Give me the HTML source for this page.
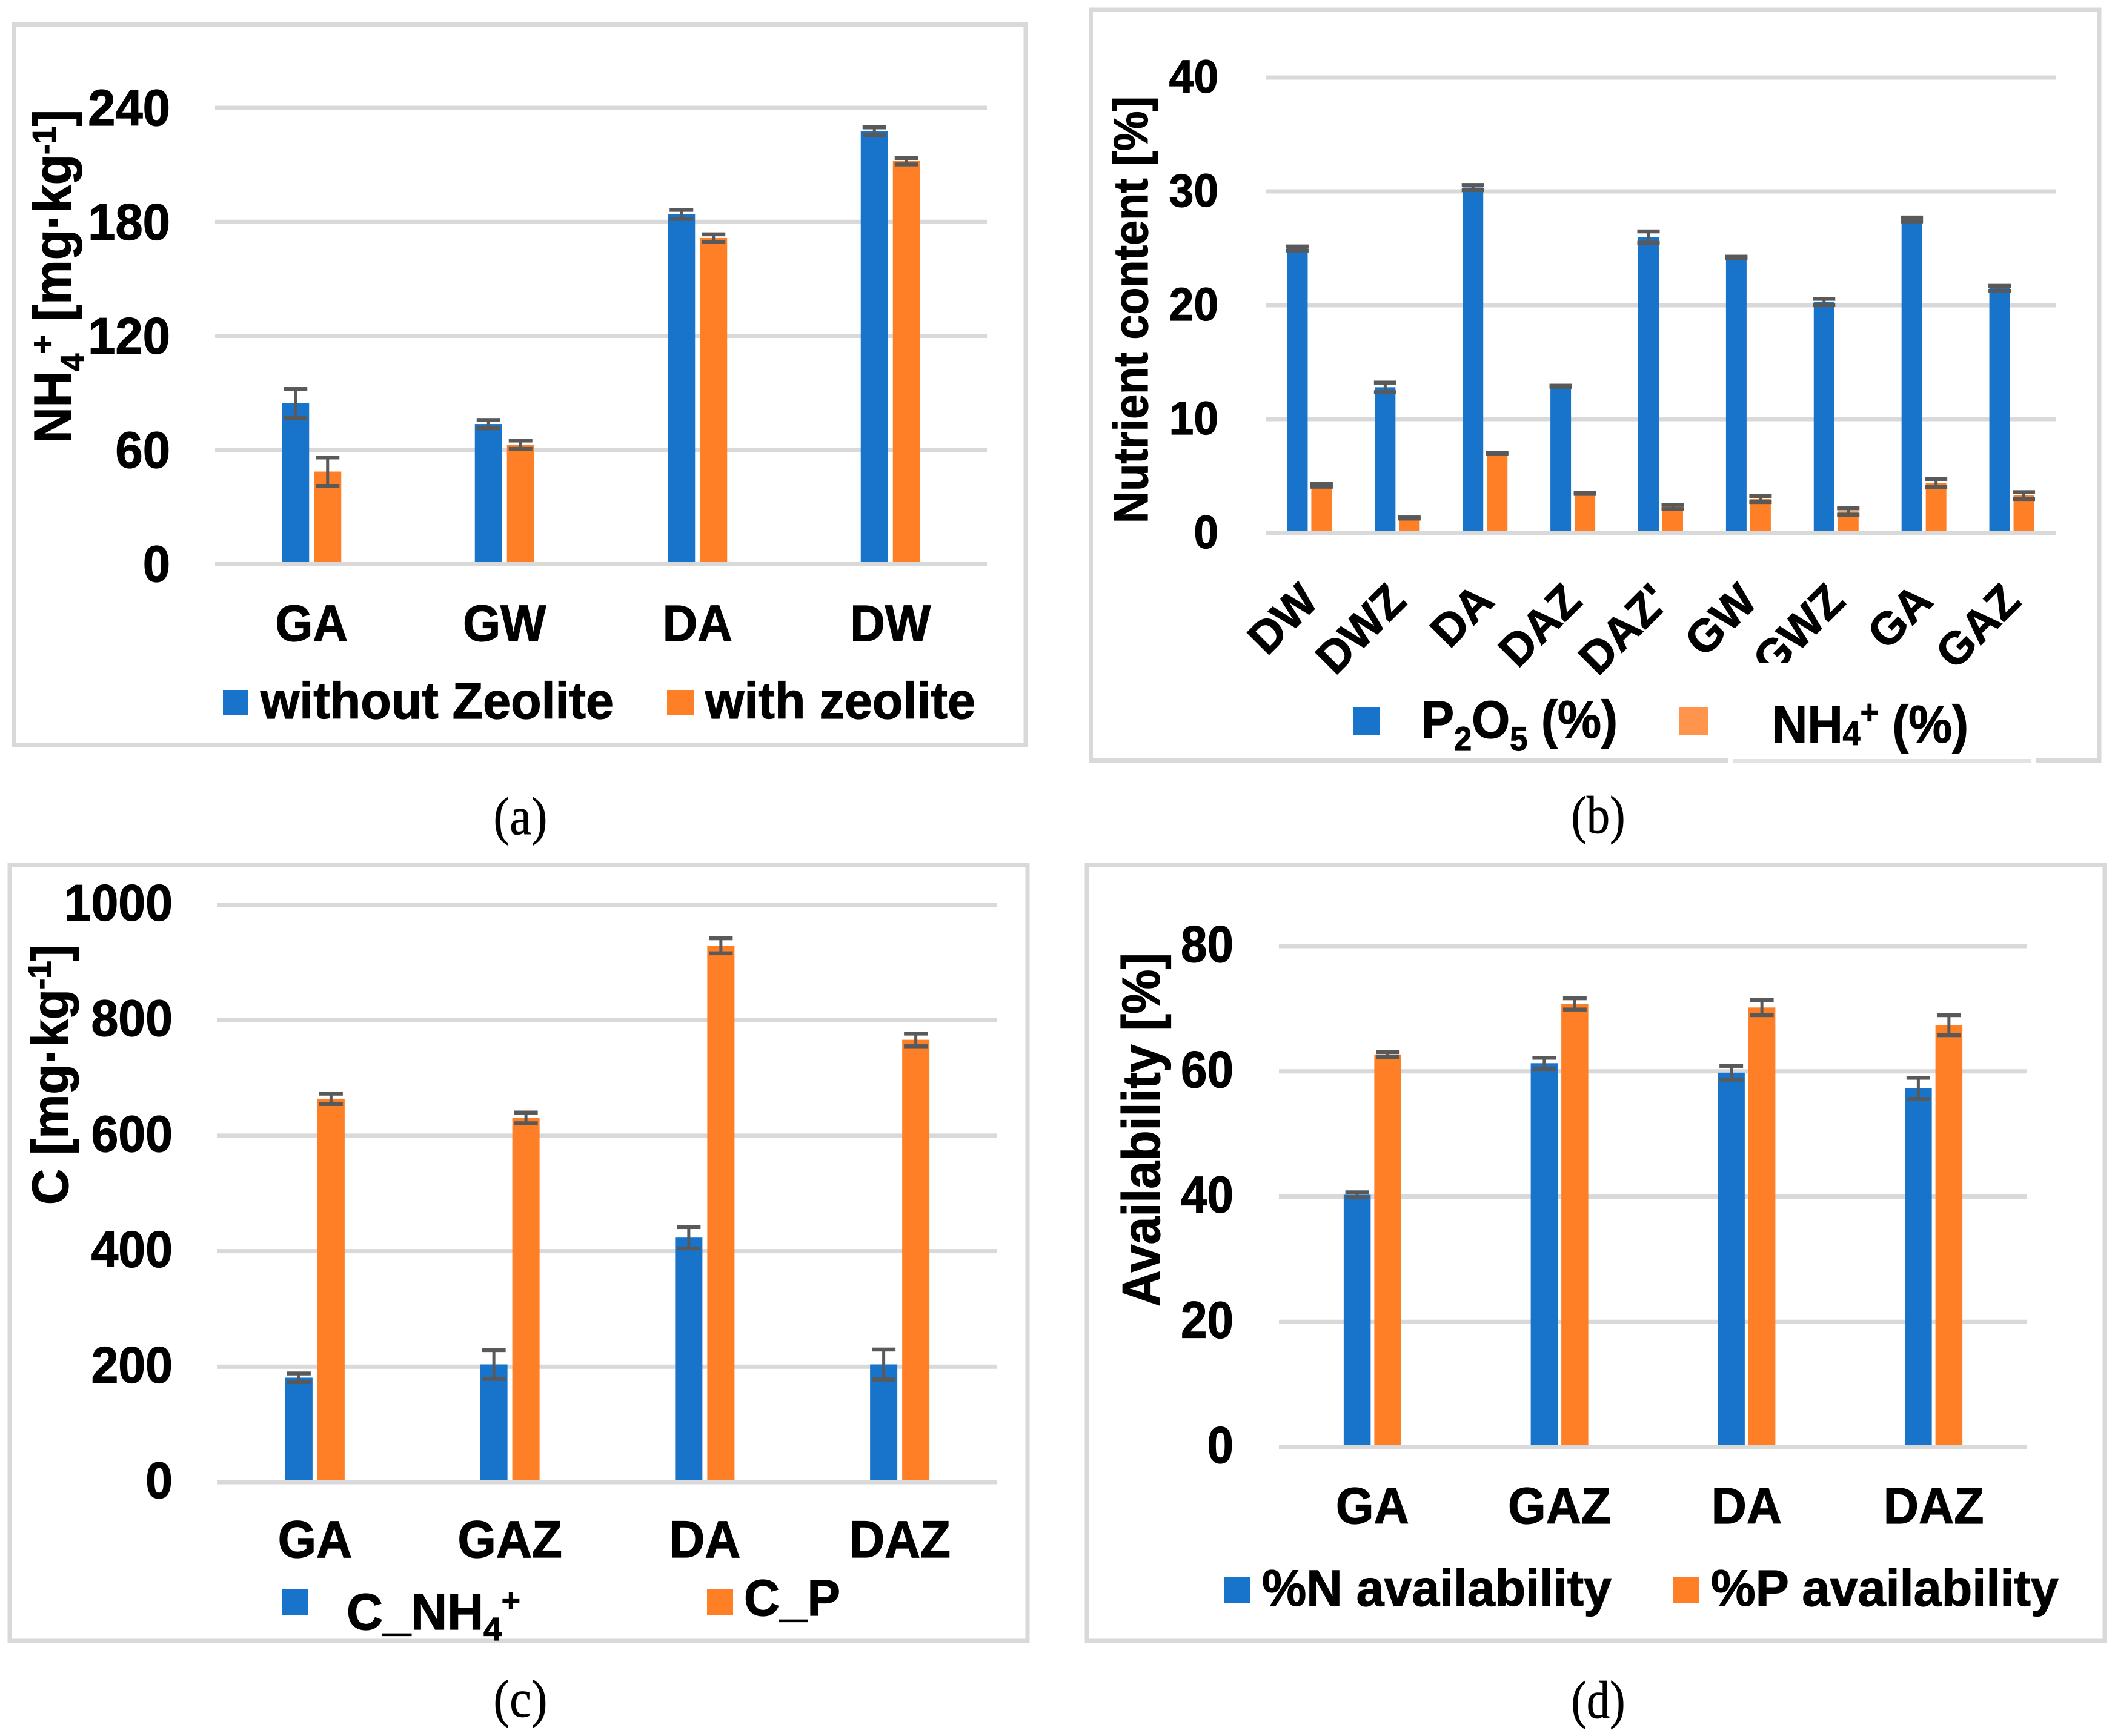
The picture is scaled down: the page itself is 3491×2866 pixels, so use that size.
<!DOCTYPE html>
<html lang="en">
<head>
<meta charset="utf-8">
<title>Nutrient charts</title>
<style>
html,body{margin:0;padding:0;background:#fff;}
svg{display:block;}
text{font-family:"Liberation Sans",sans-serif;font-weight:bold;fill:#000;stroke:#000;stroke-width:1.2px;}
.cap{font-family:"Liberation Serif",serif;font-weight:normal;font-size:88px;text-anchor:middle;stroke-width:0.8px;}
</style>
</head>
<body>
<svg id="figure" xmlns="http://www.w3.org/2000/svg" width="3491" height="2866" viewBox="0 0 3491 2866">
  <rect x="0" y="0" width="3491" height="2866" fill="#ffffff"/>

  <rect x="22.5" y="40.5" width="1670.5" height="1190" fill="none" stroke="#d9d9d9" stroke-width="7"/>
  <rect x="1800.5" y="16" width="1664.5" height="1239.5" fill="none" stroke="#d9d9d9" stroke-width="7"/>
  <rect x="16" y="1428" width="1680" height="1281" fill="none" stroke="#d9d9d9" stroke-width="7"/>
  <rect x="1794" y="1428" width="1680" height="1281" fill="none" stroke="#d9d9d9" stroke-width="7"/>
  <rect x="2852" y="1245" width="508" height="20" fill="#ffffff"/>
  <rect x="2860" y="1253" width="493" height="7" fill="#e3e3e3"/>

  <g id="panel-a"></g>
  <g id="panel-b"></g>
  <g id="panel-c"></g>
  <g id="panel-d"></g>

  <rect x="2900" y="1094" width="80" height="24" fill="#ffffff"/>

  <!-- panel a text -->
  <text transform="translate(117,732) rotate(-90)" font-size="87" textLength="551" lengthAdjust="spacingAndGlyphs">NH<tspan font-size="55" dy="21">4</tspan><tspan font-size="55" dy="-49">+</tspan><tspan dy="28"> [mg·kg</tspan><tspan font-size="55" dy="-25">-1</tspan><tspan dy="25">]</tspan></text>
  <rect x="368" y="1139" width="42" height="41" fill="#1874ca"/>
  <text x="430" y="1186" font-size="84" textLength="583" lengthAdjust="spacingAndGlyphs">without Zeolite</text>
  <rect x="1101" y="1139" width="44" height="41" fill="#ff7f27"/>
  <text x="1164" y="1186" font-size="84" textLength="446" lengthAdjust="spacingAndGlyphs">with zeolite</text>
  <text class="cap" x="859" y="1377" textLength="89" lengthAdjust="spacingAndGlyphs">(a)</text>

  <!-- panel b text -->
  <text transform="translate(1894,864) rotate(-90)" font-size="80" textLength="705" lengthAdjust="spacingAndGlyphs">Nutrient content [%]</text>
  <rect x="2233" y="1167" width="44" height="47" fill="#1874ca"/>
  <text x="2346" y="1218" font-size="87" textLength="324" lengthAdjust="spacingAndGlyphs">P<tspan font-size="56" dy="21">2</tspan><tspan dy="-21">O</tspan><tspan font-size="56" dy="21">5</tspan><tspan dy="-21"> (%)</tspan></text>
  <rect x="2772" y="1167" width="47" height="46" fill="#ff954d"/>
  <text x="2925" y="1226" font-size="87" textLength="324" lengthAdjust="spacingAndGlyphs">NH<tspan font-size="56" dy="4">4</tspan><tspan font-size="56" dy="-35">+</tspan><tspan dy="31"> (%)</tspan></text>
  <text class="cap" x="2638" y="1375" textLength="89" lengthAdjust="spacingAndGlyphs">(b)</text>

  <!-- panel c text -->
  <text transform="translate(112,1989) rotate(-90)" font-size="84" textLength="430" lengthAdjust="spacingAndGlyphs">C [mg·kg<tspan font-size="54" dy="-28">-1</tspan><tspan dy="28">]</tspan></text>
  <rect x="465" y="2624" width="43" height="42" fill="#1874ca"/>
  <text x="572" y="2690" font-size="84" textLength="287" lengthAdjust="spacingAndGlyphs">C_NH<tspan font-size="54" dy="18">4</tspan><tspan font-size="54" dy="-48">+</tspan></text>
  <rect x="1167" y="2624" width="43" height="42" fill="#ff7f27"/>
  <text x="1228" y="2667" font-size="84" textLength="159" lengthAdjust="spacingAndGlyphs">C_P</text>
  <text class="cap" x="859" y="2834" textLength="89" lengthAdjust="spacingAndGlyphs">(c)</text>

  <!-- panel d text -->
  <text transform="translate(1914,2157) rotate(-90)" font-size="88" textLength="584" lengthAdjust="spacingAndGlyphs">Availability [%]</text>
  <rect x="2021" y="2603" width="43" height="43" fill="#1874ca"/>
  <text x="2083" y="2651" font-size="84" textLength="577" lengthAdjust="spacingAndGlyphs">%N availability</text>
  <rect x="2762" y="2603" width="43" height="43" fill="#ff7f27"/>
  <text x="2824" y="2651" font-size="84" textLength="574" lengthAdjust="spacingAndGlyphs">%P availability</text>
  <text class="cap" x="2638" y="2836" textLength="89" lengthAdjust="spacingAndGlyphs">(d)</text>
</svg>

<script>
/* Panel (a) */
const aCategories = ["GA", "GW", "DA", "DW"];
const aTicks = [0, 60, 120, 180, 240];
const aBlue = [84.5, 73.6, 184, 227.8];
const aBlueErr = [7.6, 2.2, 2.4, 2];
const aOrange = [48.6, 62.8, 171.5, 212];
const aOrangeErr = [7.5, 2.2, 2, 1.7];

/* Panel (b) */
const bCategories = ["DW", "DWZ", "DA", "DAZ", "DAZ'", "GW", "GWZ", "GA", "GAZ"];
const bTicks = [0, 10, 20, 30, 40];
const bBlue = [25, 12.8, 30.35, 12.9, 26, 24.2, 20.3, 27.55, 21.5];
const bBlueErr = [0.18, 0.42, 0.23, 0.05, 0.5, 0.08, 0.28, 0.17, 0.22];
const bOrange = [4.2, 1.33, 7, 3.5, 2.3, 3, 1.9, 4.4, 3.3];
const bOrangeErr = [0.12, 0.05, 0.05, 0.05, 0.18, 0.27, 0.28, 0.36, 0.3];

/* Panel (c) */
const cCategories = ["GA", "GAZ", "DA", "DAZ"];
const cTicks = [0, 200, 400, 600, 800, 1000];
const cBlue = [181, 204, 423.5, 204];
const cBlueErr = [7.5, 25, 18.5, 26];
const cOrange = [664, 631, 929, 766];
const cOrangeErr = [9, 9.3, 13, 11];

/* Panel (d) */
const dCategories = ["GA", "GAZ", "DA", "DAZ"];
const dTicks = [0, 20, 40, 60, 80];
const dBlue = [40.3, 61.3, 59.8, 57.3];
const dBlueErr = [0.4, 0.9, 1.1, 1.7];
const dOrange = [62.7, 70.8, 70.2, 67.4];
const dOrangeErr = [0.4, 0.9, 1.2, 1.6];

const SVG_NS = "http://www.w3.org/2000/svg";
const BLUE = "#1874ca";
const ORANGE = "#ff7f27";
const GRID = "#d9d9d9";
const ERR = "#595959";

function make(tag, attrs, parent) {
  const el = document.createElementNS(SVG_NS, tag);
  for (const k in attrs) el.setAttribute(k, attrs[k]);
  parent.appendChild(el);
  return el;
}

function drawPanel(id, cats, ticks, blue, blueErr, orange, orangeErr, o) {
  const g = document.getElementById(id);
  const axisMax = ticks[ticks.length - 1];
  const yScale = function (v) { return o.y0 - (v / axisMax) * (o.y0 - o.yMax); };
  const band = (o.right - o.left) / cats.length;
  const xCenter = function (i) { return o.left + band * (i + 0.5); };

  ticks.forEach(function (t) {
    const line = make("rect", { x: o.left, y: yScale(t) - 3.5, width: o.right - o.left, height: 7, fill: GRID }, g);
    
    
    const label = make("text", { transform: "translate(" + o.tickX + " " + (yScale(t) + o.tickDy) + ") scale(" + o.tickSx + " 1)", "font-size": o.tickSize, "text-anchor": "end" }, g);
    
    
    label.textContent = String(t);
  });

  function drawBar(i, v, err, color, x, series) {
    const top = yScale(v);
    const bar = make("rect", { x: x, y: top, width: o.barW, height: o.y0 - 3.5 - top, fill: color }, g);
    
    
    const cx = x + o.barW / 2;
    const hi = yScale(v + err);
    const lo = yScale(v - err);
    const eb = make("g", { fill: ERR }, g);
    
    
    make("rect", { x: cx - 2.5, y: hi, width: 5, height: lo - hi }, eb);
    make("rect", { x: cx - o.capW / 2, y: hi - 3, width: o.capW, height: 6.5 }, eb);
    make("rect", { x: cx - o.capW / 2, y: lo - 3, width: o.capW, height: 6.5 }, eb);
  }

  cats.forEach(function (c, i) {
    const cx = xCenter(i);
    drawBar(i, blue[i], blueErr[i], BLUE, cx - o.barW - o.gap / 2, 'blue');
    drawBar(i, orange[i], orangeErr[i], ORANGE, cx + o.gap / 2, 'orange');
    let label;
    if (o.rotated) {
      const lx = cx + o.catDx;
      label = make("text", { x: lx, y: o.catY, "font-size": o.catSize, "text-anchor": "end", transform: "rotate(-45 " + lx + " " + o.catY + ")" }, g);
    } else {
      label = make("text", { transform: "translate(" + cx + " " + o.catY + ") scale(" + o.catSx + " 1)", "font-size": o.catSize, "text-anchor": "middle" }, g);
    }
    
    
    label.textContent = c;
  });
}

drawPanel("panel-a", aCategories, aTicks, aBlue, aBlueErr, aOrange, aOrangeErr, {
  left: 355, right: 1629, y0: 931, yMax: 178, barW: 45, gap: 8, capW: 39,
  tickX: 281, tickDy: 29, tickSize: 84, tickSx: 0.97, catY: 1058, catSize: 84, catSx: 0.95
});
drawPanel("panel-b", bCategories, bTicks, bBlue, bBlueErr, bOrange, bOrangeErr, {
  left: 2089, right: 3393, y0: 880, yMax: 128, barW: 34, gap: 6, capW: 37,
  tickX: 2011, tickDy: 25, tickSize: 77, tickSx: 0.95, catY: 996, catSize: 75, rotated: true, catDx: 18
});
drawPanel("panel-c", cCategories, cTicks, cBlue, cBlueErr, cOrange, cOrangeErr, {
  left: 359, right: 1646, y0: 2447, yMax: 1493.5, barW: 45, gap: 8, capW: 39,
  tickX: 285, tickDy: 26, tickSize: 84, tickSx: 0.96, catY: 2571, catSize: 86, catSx: 0.95
});
drawPanel("panel-d", dCategories, dTicks, dBlue, dBlueErr, dOrange, dOrangeErr, {
  left: 2111, right: 3346, y0: 2389, yMax: 1562, barW: 44.5, gap: 6, capW: 39,
  tickX: 2036, tickDy: 26, tickSize: 85, tickSx: 0.92, catY: 2515, catSize: 84, catSx: 0.96
});
</script>
</body>
</html>
